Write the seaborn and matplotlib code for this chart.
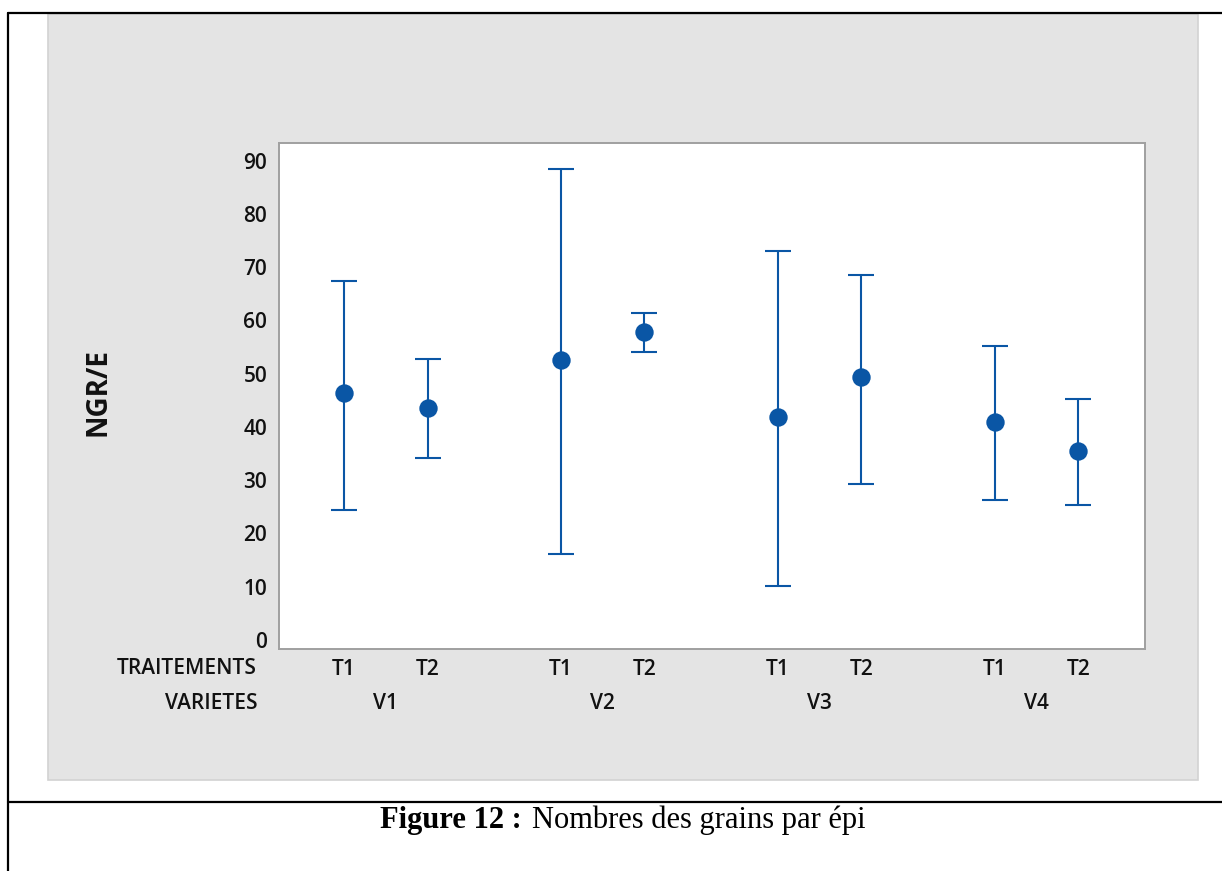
import numpy as np
import pandas as pd
import matplotlib
matplotlib.use("Agg")
import matplotlib.pyplot as plt
import seaborn as sns
from matplotlib.patches import Rectangle
from matplotlib.lines import Line2D
import matplotlib.transforms as mtransforms

# data (NGR/E per variety and treatment)
varietes    = ["V1", "V2", "V3", "V4"]
traitements = ["T1", "T2"]
moyennes = [46.3, 43.6, 52.6, 57.9, 41.8, 49.3, 41.0, 35.4]
bas      = [24.4, 34.1, 16.1, 54.0, 10.1, 29.3, 26.3, 25.4]
hauts    = [67.4, 52.8, 88.4, 61.4, 73.1, 68.6, 55.1, 45.3]
y_ticks  = [0, 10, 20, 30, 40, 50, 60, 70, 80, 90]

df = pd.DataFrame({
    "variete": np.repeat(varietes, len(traitements)),
    "traitement": traitements * len(varietes),
    "moyenne": moyennes,
    "bas": bas,
    "haut": hauts,
})
# position on the x axis: groups spaced wider than treatments
gi = df["variete"].map({v: i for i, v in enumerate(varietes)})
ti = df["traitement"].map({t: i for i, t in enumerate(traitements)})
df["pos"] = gi * 2.6 + ti

blue = "#0a56a5"
grey = "#a0a0a0"
txt = "#111111"
fs = 15
fw = "semibold"

sns.set_style("white")
plt.rcParams["font.family"] = ["Open Sans", "DejaVu Sans"]

fig = plt.figure(figsize=(12.22, 8.71), dpi=100)
W, H = 1222, 871

# grey panel behind the chart
fig.patches.append(Rectangle((48 / W, 1 - 780 / H), 1150 / W, 766 / H,
                             transform=fig.transFigure, facecolor="#e4e4e4",
                             edgecolor="#d2d2d2", linewidth=1.2, zorder=0))
# table borders of the document
for xs, ys in [((8, W), (13, 13)), ((8, 8), (13, H)), ((8, W), (802, 802))]:
    fig.lines.append(Line2D([x / W for x in xs], [1 - y / H for y in ys],
                            transform=fig.transFigure, color="black",
                            linewidth=1.6, zorder=1))

ax = fig.add_axes([279 / W, 1 - 649 / H, 866 / W, 506 / H])
ax.set_zorder(3)
ax.set_facecolor("white")

ax.errorbar(df["pos"], df["moyenne"],
            yerr=[df["moyenne"] - df["bas"], df["haut"] - df["moyenne"]],
            fmt="none", ecolor=blue, elinewidth=1.5, capsize=9.7,
            capthick=1.5, zorder=2)
sns.scatterplot(data=df, x="pos", y="moyenne", ax=ax, color=blue, s=175,
                linewidth=0, zorder=3, legend=False)

ax.set_xlim(-0.78, 9.6)
ax.set_ylim(-1.7, 93.3)
ax.set_yticks(y_ticks)
ax.set_xticks(df["pos"])
ax.set_xticklabels(df["traitement"])
ax.set_xlabel("")
ax.set_ylabel("NGR/E", fontsize=20, fontweight="bold", color=txt)
ax.yaxis.set_label_coords(-0.192, 0.508)

for s in ax.spines.values():
    s.set_color(grey)
    s.set_linewidth(1.4)
ax.tick_params(axis="both", which="both", color=grey, width=1.2,
               labelsize=fs, labelcolor=txt, direction="out")
ax.tick_params(axis="y", length=4.5, pad=4)
ax.tick_params(axis="x", length=5.5, pad=2)
for lab in ax.get_xticklabels() + ax.get_yticklabels():
    lab.set_fontweight(fw)

# variety labels under each pair
trans = mtransforms.blended_transform_factory(ax.transData, ax.transAxes)
for v in varietes:
    cx = df.loc[df["variete"] == v, "pos"].mean()
    ax.text(cx, -0.108, v, transform=trans, ha="center", va="center",
            fontsize=fs, fontweight=fw, color=txt)
ax.text(-0.0254, -0.0395, "TRAITEMENTS", transform=ax.transAxes,
        ha="right", va="center", fontsize=fs, fontweight=fw, color=txt)
ax.text(-0.0254, -0.108, "VARIETES", transform=ax.transAxes,
        ha="right", va="center", fontsize=fs, fontweight=fw, color=txt)

# caption
fig.text(522 / W, 1 - 828 / H, "Figure 12 :", ha="right", va="baseline",
         fontsize=22, fontweight="bold", family="Liberation Serif",
         color="black")
fig.text(532 / W, 1 - 828 / H, "Nombres des grains par épi", ha="left",
         va="baseline", fontsize=22, family="Liberation Serif", color="black")

fig.savefig("out.png", dpi=100, facecolor="white")
